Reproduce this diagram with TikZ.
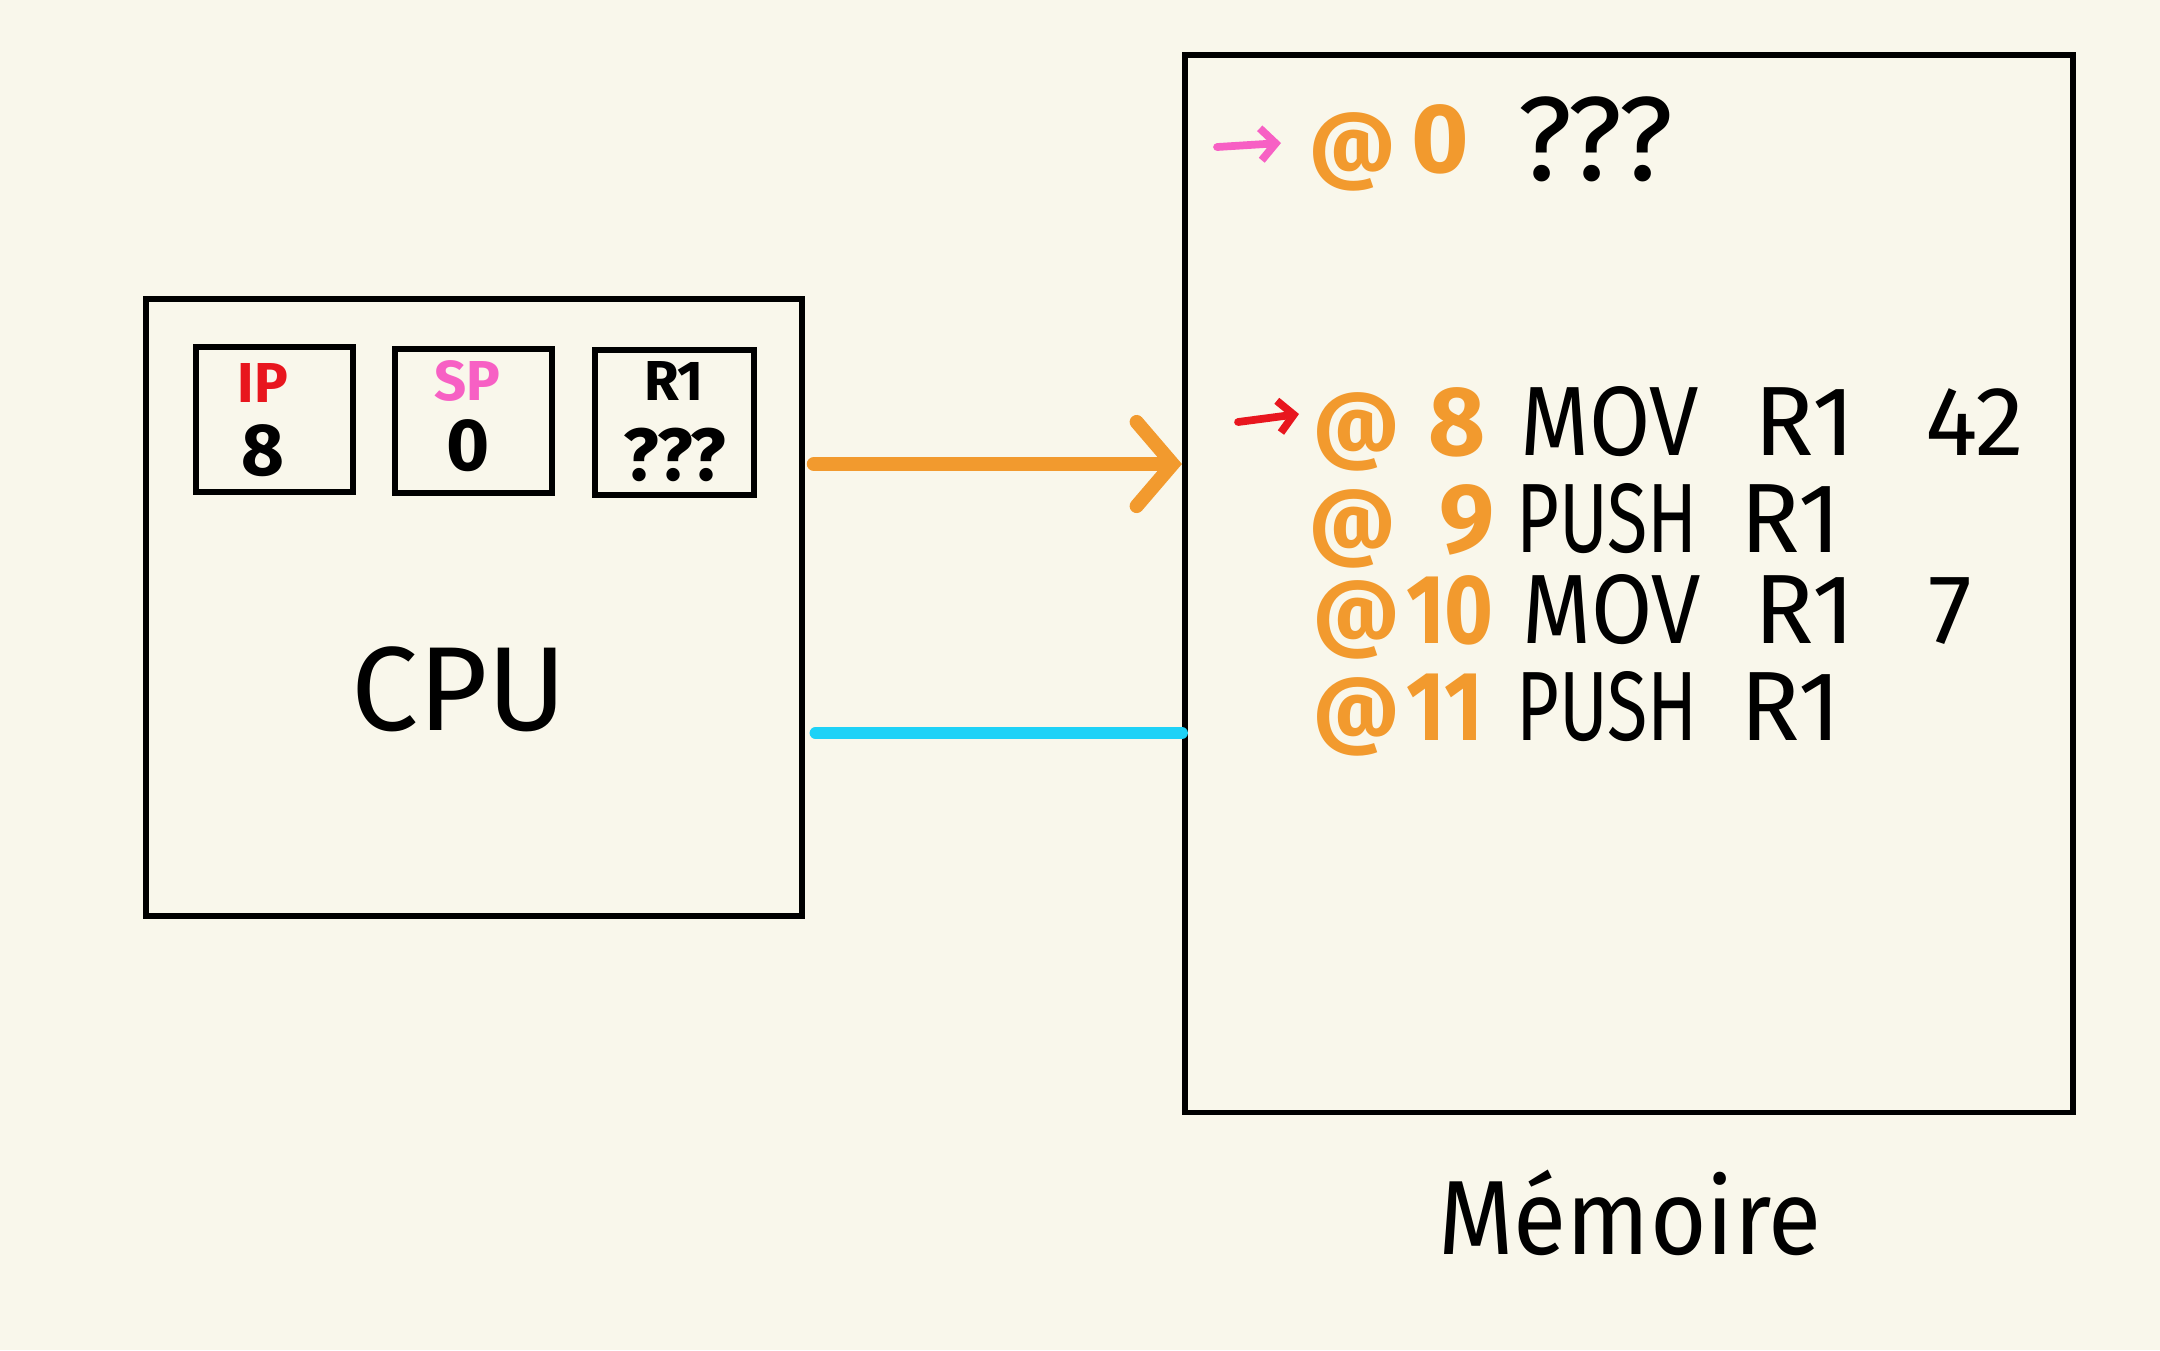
\documentclass[tikz,border=0pt]{standalone}
\usepackage{fontspec}
\setmainfont{Fira Sans}
\usetikzlibrary{arrows.meta}
\definecolor{bg}{HTML}{F9F7EB}
\definecolor{org}{HTML}{F29A2E}
\definecolor{cyn}{HTML}{1ED2F7}
\definecolor{pnk}{HTML}{F760C4}
\definecolor{rd}{HTML}{E8161E}
\newcommand{\nar}[2]{\scalebox{#1}[1]{#2}}
\begin{document}
\begin{tikzpicture}[x=0.01cm,y=-0.01cm,
  box/.style={draw=black, line width=1.6pt, inner sep=0pt},
  txt/.style={inner sep=0pt, anchor=base},
  atsign/.style={txt, text=org, font=\fontsize{24}{26}\selectfont\bfseries},
  addr/.style={txt, text=org, font=\fontsize{28}{30}\selectfont\bfseries},
  ins/.style={txt, font=\fontsize{28}{30}\selectfont},
  reglab/.style={txt, font=\fontsize{16}{18}\selectfont\bfseries},
  regval/.style={txt, font=\fontsize{21}{23}\selectfont\bfseries},
  ptr/.style={line width=2.2pt, line cap=round, -{Straight Barb[length=1.5mm,width=3.2mm]}}]
\fill[bg] (0,0) rectangle (2160,1350);
\useasboundingbox (0,0) rectangle (2160,1350);

% boxes
\node[box, minimum width=6.56cm, minimum height=6.17cm] (cpu) at (474,607.5) {};
\node[box, minimum width=8.88cm, minimum height=10.57cm] (mem) at (1629,583.5) {};
\node[box, minimum width=1.57cm, minimum height=1.45cm] (ip) at (274.5,419.5) {};
\node[box, minimum width=1.57cm, minimum height=1.44cm] (sp) at (473.5,421) {};
\node[box, minimum width=1.59cm, minimum height=1.45cm] (r1) at (674.5,422.5) {};

% register labels
\node[reglab, text=rd] (iplab) at (263,402) {IP};
\node[regval] (ipval) at (263,475) {8};
\node[reglab, text=pnk] (splab) at (467,400) {SP};
\node[regval] (spval) at (468,470) {0};
\node[reglab] (r1lab) at (674,400) {R1};
\node[regval] (r1val) at (675,480) {???};

% labels
\node[txt, font=\fontsize{34}{36}\selectfont] (cpulab) at (459,730) {CPU};
\node[txt, font=\fontsize{30}{32}\selectfont] (memlab) at (1630,1254) {\nar{0.92}{Mémoire}};

% connectors
\coordinate (ay) at (0,464);
\coordinate (cy) at (0,733);
\draw[org, line width=4pt, line cap=round, shorten <=2.5pt,
  -{Straight Barb[length=3.6mm,width=8.4mm,line cap=round]}]
  (cpu.east |- ay) -- (mem.west |- ay);
\draw[cyn, line width=3.4pt, line cap=round, shorten <=3pt]
  (cpu.east |- cy) -- (mem.west |- cy);

% memory row @0
\coordinate (p0s) at (1217,147);
\coordinate (p0e) at (1281,143);
\draw[ptr, pnk] (p0s) -- (p0e);
\node[atsign] (a0) at (1353,172) {@};
\node[addr] (n0) at (1440,172) {0};
\node[ins, font=\fontsize{34}{36}\selectfont] (q0) at (1595,180) {???};

% row @8
\coordinate (p8s) at (1238,422);
\coordinate (p8e) at (1299,414);
\draw[ptr, rd] (p8s) -- (p8e);
\node[atsign] (a8) at (1357,452) {@};
\node[addr] (n8) at (1457,455) {8};
\node[ins] (i8) at (1610,455) {\nar{0.9}{MOV}};
\node[ins] (r8) at (1805,455) {R1};
\node[ins] (v8) at (1975,455) {42};

% row @9
\node[atsign] (a9) at (1353,549) {@};
\node[addr] (n9) at (1467,552) {9};
\node[ins] (i9) at (1607,552) {\nar{0.75}{PUSH}};
\node[ins] (r9) at (1791,552) {R1};

% row @10
\node[atsign] (a10) at (1357,640) {@};
\node[addr] (n10) at (1450,643) {\nar{0.85}{10}};
\node[ins] (i10) at (1612,643) {\nar{0.9}{MOV}};
\node[ins] (r10) at (1805,643) {R1};
\node[ins] (v10) at (1950,643) {7};

% row @11
\node[atsign] (a11) at (1357,737) {@};
\node[addr] (n11) at (1445,740) {\nar{0.85}{11}};
\node[ins] (i11) at (1607,740) {\nar{0.75}{PUSH}};
\node[ins] (r11) at (1791,740) {R1};
\end{tikzpicture}
\end{document}
